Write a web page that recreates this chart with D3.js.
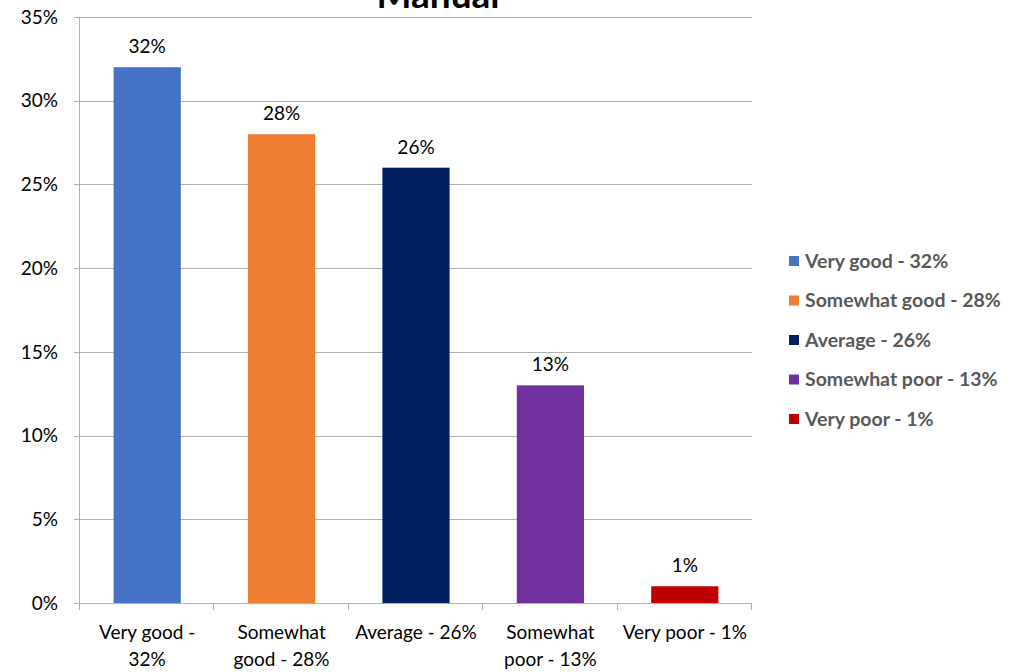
<!DOCTYPE html>
<html>
<head>
<meta charset="utf-8">
<script src="https://cdn.jsdelivr.net/npm/d3@7"></script>
<style>
  body { margin: 0; background: #fff; }
  svg { display: block; font-family: Lato, "Open Sans", sans-serif; }
</style>
</head>
<body>
<svg width="1023" height="672"></svg>
<script>
var categories = ["Very good - 32%", "Somewhat good - 28%", "Average - 26%", "Somewhat poor - 13%", "Very poor - 1%"];
var axisLabels = [["Very good -", "32%"], ["Somewhat", "good - 28%"], ["Average - 26%"], ["Somewhat", "poor - 13%"], ["Very poor - 1%"]];
var values = [32, 28, 26, 13, 1];
var colors = ["#4472C4", "#ED7D31", "#002060", "#7030A0", "#C00000"];
var yTicks = [0, 5, 10, 15, 20, 25, 30, 35];

var svg = d3.select("svg");
var margin = {left: 80, right: 271, top: 17, bottom: 69};
var width = +svg.attr("width"), height = +svg.attr("height");

var x = d3.scaleBand().domain(categories)
  .range([margin.left, width - margin.right])
  .paddingInner(0.5).paddingOuter(0.25);
var y = d3.scaleLinear().domain([0, 35]).range([height - margin.bottom, margin.top]);

// gridlines
svg.append("g")
  .selectAll("line")
  .data(yTicks)
  .enter().append("line")
  .attr("x1", margin.left - 6)
  .attr("x2", width - margin.right)
  .attr("y1", d => Math.round(y(d)) + 0.5)
  .attr("y2", d => Math.round(y(d)) + 0.5)
  .attr("stroke", "#b0b0b0");

// y axis labels
svg.append("g")
  .selectAll("text")
  .data(yTicks)
  .enter().append("text")
  .attr("x", margin.left - 22)
  .attr("y", d => y(d))
  .attr("dy", "0.35em")
  .attr("text-anchor", "end")
  .attr("font-size", "19px")
  .attr("fill", "#000")
  .text(d => d + "%");

// y axis line
svg.append("line")
  .attr("x1", margin.left - 0.5).attr("x2", margin.left - 0.5)
  .attr("y1", y(35)).attr("y2", y(0) + 7)
  .attr("stroke", "#b0b0b0");

// category tick marks at boundaries
var step = x.step();
var bounds = d3.range(categories.length + 1).map(i => margin.left + i * step);
svg.append("g")
  .selectAll("line")
  .data(bounds)
  .enter().append("line")
  .attr("x1", d => Math.round(d) - 0.5)
  .attr("x2", d => Math.round(d) - 0.5)
  .attr("y1", y(0))
  .attr("y2", y(0) + 7)
  .attr("stroke", "#b0b0b0");

// bars
svg.append("g")
  .selectAll("rect")
  .data(values)
  .enter().append("rect")
  .attr("x", (d, i) => x(categories[i]))
  .attr("width", x.bandwidth())
  .attr("y", d => y(d))
  .attr("height", d => y(0) - y(d))
  .attr("fill", (d, i) => colors[i]);

// value labels
svg.append("g")
  .selectAll("text")
  .data(values)
  .enter().append("text")
  .attr("x", (d, i) => x(categories[i]) + x.bandwidth() / 2)
  .attr("y", d => y(d) - 14)
  .attr("text-anchor", "middle")
  .attr("font-size", "19px")
  .attr("fill", "#000")
  .text(d => d + "%");

// category labels
var cat = svg.append("g")
  .selectAll("text")
  .data(axisLabels)
  .enter().append("text")
  .attr("x", (d, i) => x(categories[i]) + x.bandwidth() / 2)
  .attr("y", y(0) + 36)
  .attr("text-anchor", "middle")
  .attr("font-size", "19px")
  .attr("fill", "#000");
cat.selectAll("tspan")
  .data(d => d)
  .enter().append("tspan")
  .attr("x", function () { return this.parentNode.getAttribute("x"); })
  .attr("dy", (d, i) => i === 0 ? 0 : 27)
  .text(d => d);

// title (clipped at top, as in the original)
svg.append("text")
  .attr("x", 438)
  .attr("y", 8)
  .attr("text-anchor", "middle")
  .attr("font-size", "37px")
  .attr("font-weight", "bold")
  .attr("fill", "#000")
  .text("Manual");

// legend
var leg = svg.append("g").attr("transform", "translate(789,261)");
var row = leg.selectAll("g")
  .data(categories)
  .enter().append("g")
  .attr("transform", (d, i) => "translate(0," + (i * 39.5) + ")");
row.append("rect")
  .attr("x", 0).attr("y", -5)
  .attr("width", 10).attr("height", 10)
  .attr("fill", (d, i) => colors[i]);
row.append("text")
  .attr("x", 16)
  .attr("dy", "0.35em")
  .attr("font-size", "19.5px")
  .attr("font-weight", "bold")
  .attr("fill", "#595959")
  .text(d => d);
</script>
</body>
</html>
